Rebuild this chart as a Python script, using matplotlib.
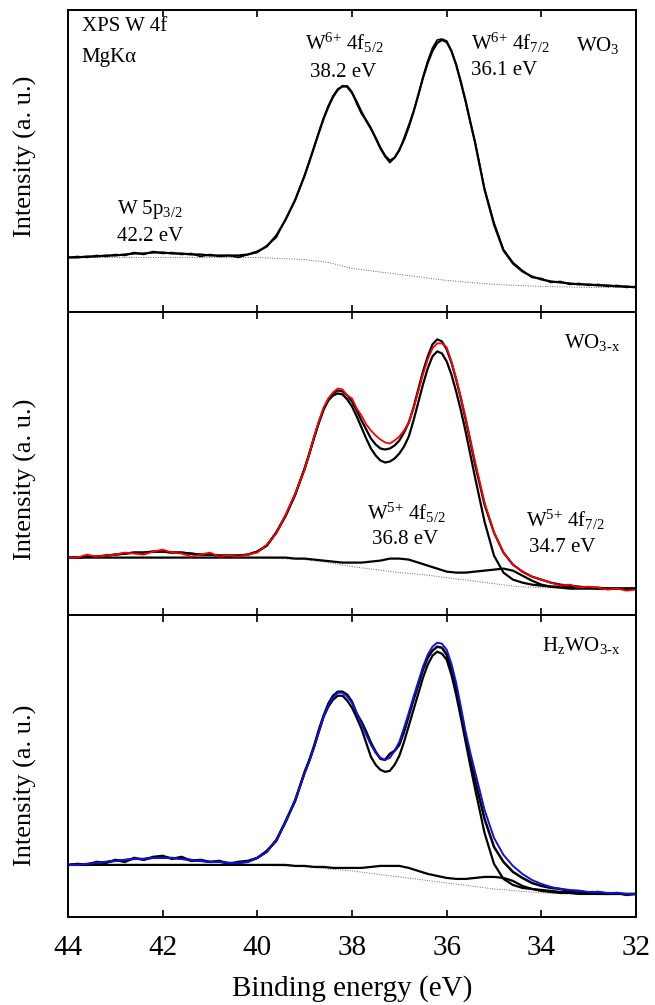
import numpy as np
import matplotlib
matplotlib.use("Agg")
import matplotlib.pyplot as plt

plt.rcParams['font.family'] = ['Liberation Serif', 'DejaVu Serif']
plt.rcParams['mathtext.fontset'] = 'custom'
plt.rcParams['mathtext.rm'] = 'Liberation Serif'
plt.rcParams['mathtext.it'] = 'Liberation Serif:italic'

# binding energy grids (eV): finer steps across the W 4f doublet
energy = np.round(np.concatenate([np.linspace(44, 39, 26),
                                  np.linspace(38.9, 35.5, 35),
                                  np.linspace(35.4, 32, 18)]), 1)
energy02 = np.round(np.linspace(44, 32, 61), 1)
energy_bg = np.linspace(44, 32, 25)

# --- WO3 ---
wo3_data = [55, 56, 55, 57, 56, 58, 57, 60, 58, 61, 59, 60, 58, 59, 56, 58, 56, 57, 55, 58, 60, 67, 75, 94, 112, 138,
            152, 165, 181, 195, 207, 217, 224, 226, 227, 221, 209, 199, 193, 185, 174, 164, 156, 150, 155, 162,
            175, 188, 201, 217, 236, 252, 265, 273, 274, 272, 262, 249, 230, 211, 190,
            171, 124, 90, 63, 50, 42, 35, 34, 30, 31, 28, 29, 27, 28, 26, 27, 25, 26]
wo3_fit = [55, 55, 56, 56, 57, 57, 58, 59, 59, 60, 60, 59, 59, 58, 58, 57, 57, 57, 57, 58, 61, 66, 77, 93, 113, 137,
           151, 166, 180, 194, 206, 216, 223, 227, 226, 220, 211, 201, 192, 184, 175, 165, 157, 152, 155, 163,
           173, 186, 201, 218, 235, 250, 262, 270, 273, 271, 262, 248, 231, 212, 191,
           170, 123, 88, 62, 49, 41, 36, 33, 31, 30, 29, 28, 28, 27, 27, 26, 26, 25]
wo3_bg = [55, 55, 55, 55, 55, 55, 55, 55, 55,
          54, 53, 50, 44, 41, 38, 35, 32, 30, 28, 27, 26,
          25.5, 25, 25, 25]

# --- WO3-x ---
wo3x_data = [57, 57, 60, 58, 59, 60, 62, 61, 60, 63, 65, 62, 61, 58, 60, 62, 58, 59, 58, 60, 62, 70, 81, 100, 121, 145,
             161, 178, 193, 207, 216, 222, 226, 225, 219, 216, 206, 199, 190, 184, 179, 175, 172, 171, 174, 178,
             184, 192, 206, 223, 240, 255, 266, 271, 271, 267, 253, 236, 217, 197, 175,
             153, 112, 82, 62, 50, 43, 38, 35, 32, 29, 30, 27, 28, 27, 25, 26, 24, 25]
wo3x_env = [57, 57, 58, 58, 59, 60, 61, 62, 62, 63, 63, 62, 62, 61, 60, 60, 59, 59, 59, 60, 63, 69, 82, 99, 120, 146,
            161, 177, 192, 205, 215, 221, 224, 223, 219, 213, 204, 194, 185, 176, 170, 166, 165, 166, 169, 174,
            182, 192, 207, 225, 243, 258, 270, 275, 273, 265, 252, 235, 216, 195, 173,
            150, 110, 82, 62, 50, 43, 38, 35, 32, 30, 29, 28, 27, 27, 26, 26, 26, 26]
wo3x_w6 = [57, 57, 58, 58, 59, 60, 61, 62, 62, 63, 63, 62, 62, 61, 60, 60, 59, 59, 59, 60, 63, 69, 82, 99, 120, 146,
           161, 177, 192, 205, 214, 219, 221, 220, 215, 208, 198, 187, 176, 166, 159, 154, 152, 153, 156, 161,
           168, 178, 194, 212, 230, 246, 258, 263, 261, 253, 240, 223, 204, 183, 160,
           137, 93, 59, 42, 35, 32, 30, 29, 28, 28, 27, 27, 27, 26, 26, 26, 26, 26]
wo3x_w5 = [57, 57, 57, 57, 57, 57, 57, 57, 57, 57, 57, 57, 57, 57, 57, 57, 57, 57, 57, 57,
           57, 57, 57,
           57, 56, 56, 55, 54, 53, 52, 52, 52, 53,
           54, 56, 56, 55, 52, 49, 46, 43, 42, 42,
           43, 44, 45, 46, 44, 39, 34, 30, 28, 27,
           26, 26, 26, 26, 26, 26, 26, 26]
wo3x_bg = [57, 57, 57, 57, 57, 57, 57, 57, 57,
           56, 55, 52, 48, 45, 42, 40, 37, 34, 31, 28, 27,
           26, 26, 26, 26]

# --- HzWO3-x ---
hwo_data = [52, 53, 52, 55, 54, 57, 55, 59, 57, 60, 61, 58, 60, 56, 57, 55, 56, 53, 55, 56, 59, 66, 76, 96, 116, 145,
            157, 171, 187, 201, 213, 221, 225, 225, 222, 215, 203, 195, 185, 174, 165, 158, 157, 163, 166, 172,
            185, 201, 217, 232, 247, 259, 266, 270, 269, 262, 247, 229, 205, 179, 157,
            137, 98, 70, 55, 45, 39, 34, 31, 29, 28, 26, 26, 24, 25, 23, 24, 22, 23]
hwo_fit = [52, 52, 53, 54, 55, 56, 57, 58, 58, 59, 59, 59, 58, 57, 56, 55, 55, 54, 54, 55, 59, 65, 77, 95, 117, 144,
           156, 170, 185, 200, 211, 219, 224, 224, 220, 214, 204, 193, 182, 172, 164, 159, 157, 159, 166, 175,
           189, 204, 220, 235, 250, 262, 270, 274, 273, 267, 253, 234, 210, 185, 164,
           145, 107, 79, 62, 51, 43, 37, 33, 30, 28, 27, 26, 25, 25, 24, 24, 23, 23]
hwo_w6 = [52, 52, 53, 54, 55, 56, 57, 58, 58, 59, 59, 59, 58, 57, 56, 55, 55, 54, 54, 55, 59, 65, 77, 95, 117, 144,
          156, 170, 185, 200, 210, 217, 221, 221, 216, 209, 199, 188, 174, 160, 152, 147, 145, 146, 152, 161,
          175, 191, 207, 223, 239, 252, 261, 265, 263, 257, 242, 222, 199, 175, 151,
          128, 84, 53, 38, 32, 29, 28, 27, 26, 25, 25, 24, 24, 23, 23, 23, 23, 23]
hwo_w5 = [52, 52, 52, 52, 52, 52, 52, 52, 52, 52, 52, 52, 52, 52, 52, 52, 52, 52, 52, 52,
          52, 52, 52,
          52, 51, 51, 50, 50, 49, 49, 49, 49, 50,
          51, 51, 51, 49, 46, 43, 41, 39, 38, 38,
          39, 40, 40, 39, 36, 31, 28, 26, 25, 24,
          24, 23, 23, 23, 23, 23, 23, 23]
hwo_bg = [52, 52, 52, 52, 52, 52, 52, 52, 52,
          51, 50, 48, 46, 43, 40, 37, 34, 31, 28, 26, 24,
          23, 23, 23, 23]

fig, axes = plt.subplots(3, 1, figsize=(6.55, 10.05), dpi=100, sharex=True)
fig.subplots_adjust(left=0.1038, right=0.971, bottom=0.0876, top=0.990, hspace=0)
ax1, ax2, ax3 = axes

dot = dict(color='#666666', lw=0.7, ls=(0, (1, 1.5)))
blk = dict(color='black', lw=1.6)

# panel 1: WO3
ax1.plot(energy_bg, wo3_bg, **dot)
ax1.plot(energy, wo3_fit, **blk)
ax1.plot(energy, wo3_data, color='black', lw=1.2)

# panel 2: WO3-x
ax2.plot(energy_bg, wo3x_bg, **dot)
ax2.plot(energy02, wo3x_w5, **blk)
ax2.plot(energy, wo3x_w6, **blk)
ax2.plot(energy, wo3x_env, **blk)
ax2.plot(energy, wo3x_data, color='red', lw=1.3)

# panel 3: HzWO3-x
ax3.plot(energy_bg, hwo_bg, **dot)
ax3.plot(energy02, hwo_w5, **blk)
ax3.plot(energy, hwo_w6, **blk)
ax3.plot(energy, hwo_data, color='black', lw=1.8)
ax3.plot(energy, hwo_fit, color='#1010e0', lw=1.4)

for ax, top, ly in zip(axes, [303, 302, 302], [0.515, 0.447, 0.437]):
    ax.set_xlim(44, 32)
    ax.set_ylim(0, top)
    ax.set_yticks([])
    ax.set_xticks([44, 42, 40, 38, 36, 34, 32])
    ax.tick_params(axis='x', direction='in', top=True, length=5, width=1.2,
                   labelsize=21, pad=13)
    for s in ax.spines.values():
        s.set_linewidth(1.4)
    ax.set_ylabel('Intensity (a. u.)', fontsize=19)
    ax.yaxis.set_label_coords(-0.055, ly)

ax3.set_xlabel('Binding energy (eV)', fontsize=21, labelpad=10)

fs = 15
t1 = ax1.transAxes
ax1.text(0.024, 0.944, 'XPS W 4f', transform=t1, fontsize=fs, va='center')
ax1.text(0.024, 0.842, 'MgKα', transform=t1, fontsize=fs, va='center')
ax1.text(0.487, 0.891, r'W$^{\text{6+}}$ 4f$_{5/2}$', transform=t1, fontsize=fs, ha='center', va='center')
ax1.text(0.484, 0.792, '38.2 eV', transform=t1, fontsize=fs, ha='center', va='center')
ax1.text(0.778, 0.891, r'W$^{\text{6+}}$ 4f$_{7/2}$', transform=t1, fontsize=fs, ha='center', va='center')
ax1.text(0.768, 0.799, '36.1 eV', transform=t1, fontsize=fs, ha='center', va='center')
ax1.text(0.933, 0.884, r'WO$_{3}$', transform=t1, fontsize=fs, ha='center', va='center')
ax1.text(0.144, 0.34, r'W 5p$_{3/2}$', transform=t1, fontsize=fs, ha='center', va='center')
ax1.text(0.144, 0.251, '42.2 eV', transform=t1, fontsize=fs, ha='center', va='center')

t2 = ax2.transAxes
ax2.text(0.923, 0.90, r'WO$_{\text{3-x}}$', transform=t2, fontsize=fs, ha='center', va='center')
ax2.text(0.595, 0.338, r'W$^{\text{5+}}$ 4f$_{5/2}$', transform=t2, fontsize=fs, ha='center', va='center')
ax2.text(0.593, 0.248, '36.8 eV', transform=t2, fontsize=fs, ha='center', va='center')
ax2.text(0.875, 0.315, r'W$^{\text{5+}}$ 4f$_{7/2}$', transform=t2, fontsize=fs, ha='center', va='center')
ax2.text(0.870, 0.222, '34.7 eV', transform=t2, fontsize=fs, ha='center', va='center')

t3 = ax3.transAxes
ax3.text(0.903, 0.897, r'H$_{\text{z}}$WO$_{\text{3-x}}$', transform=t3, fontsize=fs,
         ha='center', va='center')

fig.savefig('out.png', dpi=100)
